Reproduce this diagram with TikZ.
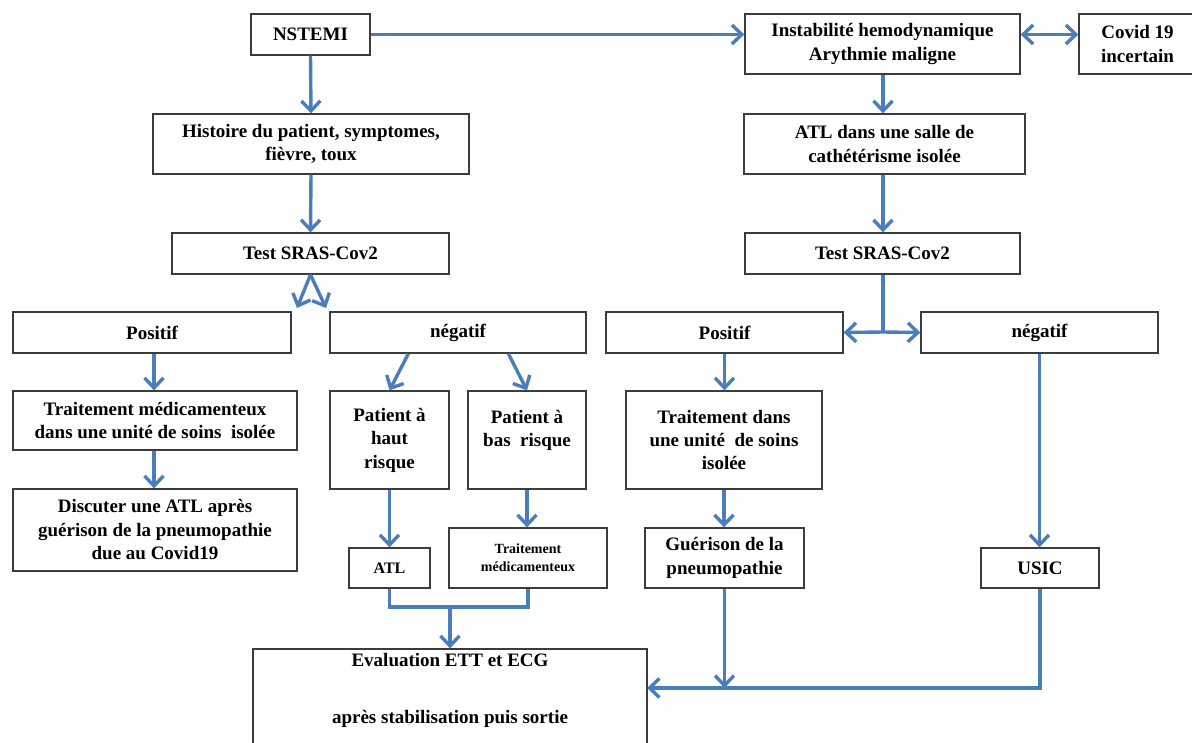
\documentclass[tikz,border=0pt]{standalone}
\usepackage{fontspec}
\setmainfont{Liberation Serif}
\usetikzlibrary{arrows.meta,calc}
\definecolor{arrblue}{RGB}{74,126,187}
\definecolor{boxgray}{RGB}{60,60,60}
\tikzset{
  box/.style={draw=boxgray, line width=1.3pt, inner sep=0pt, align=center,
    font=\fontsize{19}{23.5}\selectfont\bfseries, fill=white},
  smallbox/.style={box, font=\fontsize{14}{18}\selectfont\bfseries},
  atlbox/.style={box, font=\fontsize{16}{18}\selectfont\bfseries},
  arr/.style={draw=arrblue, line width=3.4pt, -{Straight Barb[length=10pt,width=19pt]}},
  dblarr/.style={draw=arrblue, line width=3.4pt, {Straight Barb[length=10pt,width=19pt]}-{Straight Barb[length=10pt,width=19pt]}},
  conn/.style={draw=arrblue, line width=3.4pt}
}
\begin{document}
\begin{tikzpicture}[x=1pt,y=-1pt]
\path[use as bounding box, clip] (0,0) rectangle (1192,743);
\fill[white] (0,0) rectangle (1192,743);
% left column
\node[box, minimum width=119pt, minimum height=41pt] (nstemi) at (310.5,34.5) {NSTEMI};
\node[box, minimum width=316pt, minimum height=60pt] (hist) at (311,144) {Histoire du patient, symptomes,\\fièvre, toux};
\node[box, minimum width=277pt, minimum height=41pt] (testL) at (310.5,253.5) {Test SRAS-Cov2};
\node[box, minimum width=278pt, minimum height=41pt] (posL) at (152,332.5) {Positif};
\node[box, minimum width=256pt, minimum height=41pt] (negL) at (458,332.5) {négatif};
\node[box, minimum width=284pt, minimum height=59pt] (tmedL) at (155,420.5) {Traitement médicamenteux\\dans une unité de soins\ \ isolée};
\node[box, minimum width=284pt, minimum height=82pt] (disc) at (155,530) {Discuter une ATL après\\guérison de la pneumopathie\\due au Covid19};
\node[box, minimum width=119pt, minimum height=98pt] (haut) at (389.5,440) {Patient à\\haut\\risque};
\node[box, minimum width=118pt, minimum height=98pt] (bas) at (527,440) {Patient à\\bas\ \ risque\\\mbox{}};
\node[atlbox, minimum width=81pt, minimum height=40pt] (atl) at (389.5,568) {ATL};
\node[smallbox, minimum width=158pt, minimum height=60pt] (tmedS) at (528,558) {Traitement\\médicamenteux};
\node[box, minimum width=394pt, minimum height=121pt] (evalb) at (450,709.5) {Evaluation ETT et ECG\\[33.5pt]après stabilisation puis sortie\\[18.5pt]\mbox{}};
% right column
\node[box, minimum width=275pt, minimum height=60pt] (inst) at (882.5,44) {Instabilité hemodynamique\\Arythmie maligne};
\node[box, minimum width=117pt, minimum height=60pt] (covid) at (1137.5,44) {Covid 19\\incertain};
\node[box, minimum width=281pt, minimum height=60pt] (atld) at (884.5,144) {ATL dans une salle de\\cathétérisme isolée};
\node[box, minimum width=275pt, minimum height=41pt] (testR) at (882.5,253.5) {Test SRAS-Cov2};
\node[box, minimum width=237pt, minimum height=41pt] (posR) at (724.5,332.5) {Positif};
\node[box, minimum width=237pt, minimum height=41pt] (negR) at (1039.5,332.5) {négatif};
\node[box, minimum width=196pt, minimum height=98pt] (tdans) at (724,440) {Traitement dans\\une unité\ \ de soins\\isolée};
\node[box, minimum width=159pt, minimum height=60pt] (guer) at (724.5,558) {Guérison de la\\pneumopathie};
\node[box, minimum width=118pt, minimum height=40pt] (usic) at (1040,568) {USIC};
% helper coordinates
\coordinate (sp1) at (297,308);
\coordinate (sp2) at (326,308);
\coordinate (jn) at (450,607);
\coordinate (jR) at (883,332);
\coordinate (ee) at (647,688);
% connectors left
\draw[arr] (nstemi.east) -- (nstemi.east -| inst.west);
\draw[dblarr] (inst.east |- nstemi.east) -- (covid.west |- nstemi.east);
\draw[arr] (nstemi.south) -- (hist.north);
\draw[arr] (hist.south) -- (testL.north);
\draw[arr] (testL.south) -- (sp1);
\draw[arr] (testL.south) -- (sp2);
\draw[arr] (posL.south -| 154,0) -- (tmedL.north -| 154,0);
\draw[arr] (tmedL.south -| 154,0) -- (disc.north -| 154,0);
\draw[arr] ($(negL.south west)+(79,0)$) -- (haut.north);
\draw[arr] ($(negL.south west)+(179,0)$) -- (bas.north);
\draw[arr] (haut.south) -- (atl.north);
\draw[arr] (bas.south) -- (bas.south |- tmedS.north);
\draw[conn] (atl.south) |- (jn) -| (tmedS.south);
\draw[arr] (jn) -- (evalb.north);
% connectors right
\draw[arr] (883,0 |- inst.south) -- (883,0 |- atld.north);
\draw[arr] (883,0 |- atld.south) -- (883,0 |- testR.north);
\draw[conn] (883,0 |- testR.south) -- (jR);
\draw[arr] (jR) -- (posR.east);
\draw[arr] (jR) -- (negR.west);
\draw[arr] (posR.south) -- (posR.south |- tdans.north);
\draw[arr] (tdans.south) -- (tdans.south |- guer.north);
\draw[arr] (negR.south) -- (negR.south |- usic.north);
\draw[arr] (usic.south) |- (ee);
\draw[arr] (guer.south) -- (guer.south |- ee);
\end{tikzpicture}
\end{document}
